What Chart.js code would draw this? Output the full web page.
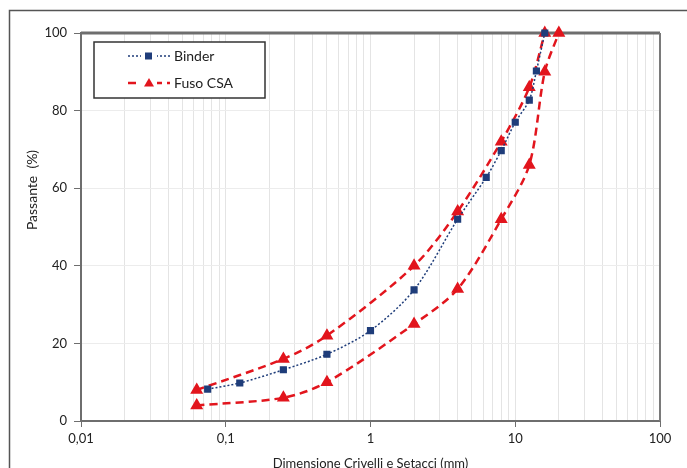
<!DOCTYPE html>
<html>
<head>
<meta charset="utf-8">
<script src="https://cdn.jsdelivr.net/npm/chart.js@4"></script>
<style>
  html, body { margin: 0; padding: 0; background: #fff; }
  #curve { display: block; }
</style>
</head>
<body>
<canvas id="curve" width="687" height="468"></canvas>
<script>
  // Sieve sizes (mm) and percent passing
  const binderSizes = [0.075, 0.125, 0.25, 0.5, 1, 2, 4, 6.3, 8, 10, 12.5, 14, 16];
  const binderPass  = [8.2, 9.8, 13.2, 17.2, 23.3, 33.8, 52, 62.8, 69.7, 77, 82.7, 90.2, 100];

  const csaUpperSizes = [0.063, 0.25, 0.5, 2, 4, 8, 12.5, 16];
  const csaUpperPass  = [8, 16, 22, 40, 54, 72, 86, 100];
  const csaLowerSizes = [0.063, 0.25, 0.5, 2, 4, 8, 12.5, 16, 20];
  const csaLowerPass  = [4, 6, 10, 25, 34, 52, 66, 90, 100];

  const xTickLabels = ['0,01', '0,1', '1', '10', '100'];
  const yTicks = [0, 20, 40, 60, 80, 100];
  const yTitle = 'Passante  (%)';

  const NAVY = '#1f3d7a';
  const RED = '#e2151d';
  const TEXT = '#222';
  const FONT = 'Lato, "Liberation Sans", sans-serif';

  const pts = (xs, ys) => xs.map((x, i) => ({ x: x, y: ys[i] }));
  const isPow10 = v => Math.abs(Math.log10(v) - Math.round(Math.log10(v))) < 1e-9;

  // legend drawn inside the plot, top left, like the original
  const boxLegend = {
    id: 'boxLegend',
    afterDraw(chart) {
      const c = chart.ctx;
      const ds = chart.data.datasets;
      c.save();
      c.strokeStyle = '#333';
      c.lineWidth = 1.5;
      c.fillStyle = '#fff';
      c.fillRect(94, 42, 171, 56);
      c.strokeRect(94, 42, 171, 56);
      const rows = [{ d: ds[0], y: 56 }, { d: ds[1], y: 83 }];
      rows.forEach(r => {
        c.strokeStyle = r.d.borderColor;
        c.lineWidth = r.d.borderWidth;
        c.setLineDash(r.d.borderDash);
        c.beginPath();
        c.moveTo(128, r.y);
        c.lineTo(170, r.y);
        c.stroke();
        c.setLineDash([]);
        c.fillStyle = '#fff';
        c.fillRect(141, r.y - 6, 16, 12);
        c.fillStyle = r.d.pointBackgroundColor;
        c.beginPath();
        if (r.d.pointStyle === 'rect') {
          c.fillRect(145, r.y - 3.5, 7, 7);
        } else {
          c.moveTo(149, r.y - 5);
          c.lineTo(154, r.y + 3.5);
          c.lineTo(144, r.y + 3.5);
          c.closePath();
          c.fill();
        }
        c.fillStyle = TEXT;
        c.font = '14px ' + FONT;
        c.textBaseline = 'middle';
        c.fillText(r.d.label, 174, r.y);
      });
      c.restore();
    }
  };

  // top/right plot border, y title and the outer picture frame
  const frame = {
    id: 'frame',
    beforeDatasetsDraw(chart) {
      const a = chart.chartArea;
      const c = chart.ctx;
      c.save();
      c.strokeStyle = '#6e6e6e';
      c.lineWidth = 3;
      c.beginPath();
      c.moveTo(a.left, a.top);
      c.lineTo(a.right, a.top);
      c.stroke();
      c.lineWidth = 2;
      c.strokeStyle = '#7a7a7a';
      c.beginPath();
      c.moveTo(a.right, a.top);
      c.lineTo(a.right, a.bottom);
      c.stroke();
      c.restore();
    },
    afterDraw(chart) {
      const c = chart.ctx;
      c.save();
      c.strokeStyle = '#555';
      c.lineWidth = 1.5;
      c.strokeRect(9.5, 10.5, 720, 520);
      c.translate(32, 190);
      c.rotate(-Math.PI / 2);
      c.fillStyle = TEXT;
      c.font = '14px ' + FONT;
      c.textAlign = 'center';
      c.textBaseline = 'middle';
      c.fillText(yTitle, 0, 0);
      c.restore();
    }
  };

  new Chart(document.getElementById('curve'), {
    type: 'line',
    data: {
      datasets: [{
        label: 'Binder',
        data: pts(binderSizes, binderPass),
        borderColor: NAVY,
        borderWidth: 1.5,
        borderDash: [2, 2],
        pointStyle: 'rect',
        pointRadius: 4,
        pointBackgroundColor: NAVY,
        pointBorderColor: NAVY,
        tension: 0.3,
        clip: 8,
        order: 1
      }, {
        label: 'Fuso CSA',
        data: pts(csaUpperSizes, csaUpperPass),
        borderColor: RED,
        borderWidth: 2.5,
        borderDash: [8, 5],
        pointStyle: 'triangle',
        pointRadius: 5,
        pointBackgroundColor: RED,
        pointBorderColor: RED,
        tension: 0.3,
        clip: 8,
        order: 2
      }, {
        label: 'Fuso CSA (inf)',
        data: pts(csaLowerSizes, csaLowerPass),
        borderColor: RED,
        borderWidth: 2.5,
        borderDash: [8, 5],
        pointStyle: 'triangle',
        pointRadius: 5,
        pointBackgroundColor: RED,
        pointBorderColor: RED,
        tension: 0.3,
        clip: 8,
        order: 2
      }]
    },
    options: {
      responsive: false,
      animation: false,
      devicePixelRatio: 1,
      layout: { padding: { left: 20, top: 33, right: 27, bottom: 0 } },
      plugins: {
        legend: { display: false },
        tooltip: { enabled: false }
      },
      scales: {
        x: {
          type: 'logarithmic',
          min: 0.01,
          max: 100,
          afterBuildTicks(scale) {
            const t = [];
            for (let e = -2; e < 2; e++) {
              for (let m = 1; m < 10; m++) t.push({ value: Number((m * Math.pow(10, e)).toPrecision(6)) });
            }
            t.push({ value: 100 });
            scale.ticks = t;
          },
          afterFit(scale) { scale.height = 47; },
          ticks: {
            autoSkip: false,
            maxRotation: 0,
            padding: 4,
            color: TEXT,
            font: { family: FONT, size: 13 },
            callback(v) {
              if (!isPow10(v)) return '';
              return xTickLabels[Math.round(Math.log10(v)) + 2];
            }
          },
          grid: {
            color: '#e4e4e4',
            lineWidth: 1,
            tickLength: 6,
            tickColor: ctx => (ctx.tick && isPow10(ctx.tick.value)) ? '#6e6e6e' : 'rgba(0,0,0,0)'
          },
          border: { color: '#6e6e6e', width: 2 },
          title: {
            display: true,
            text: 'Dimensione Crivelli e Setacci (mm)',
            color: TEXT,
            font: { family: FONT, size: 13 },
            padding: { top: 2, bottom: -4 }
          }
        },
        y: {
          min: 0,
          max: 100,
          afterBuildTicks(scale) { scale.ticks = yTicks.map(v => ({ value: v })); },
          afterFit(scale) { scale.width = 61; },
          ticks: {
            padding: 7,
            color: TEXT,
            font: { family: FONT, size: 13 }
          },
          grid: {
            color: '#ececec',
            tickLength: 7,
            tickColor: '#6e6e6e'
          },
          border: { color: '#6e6e6e', width: 2 }
        }
      }
    },
    plugins: [frame, boxLegend]
  });
</script>
</body>
</html>
